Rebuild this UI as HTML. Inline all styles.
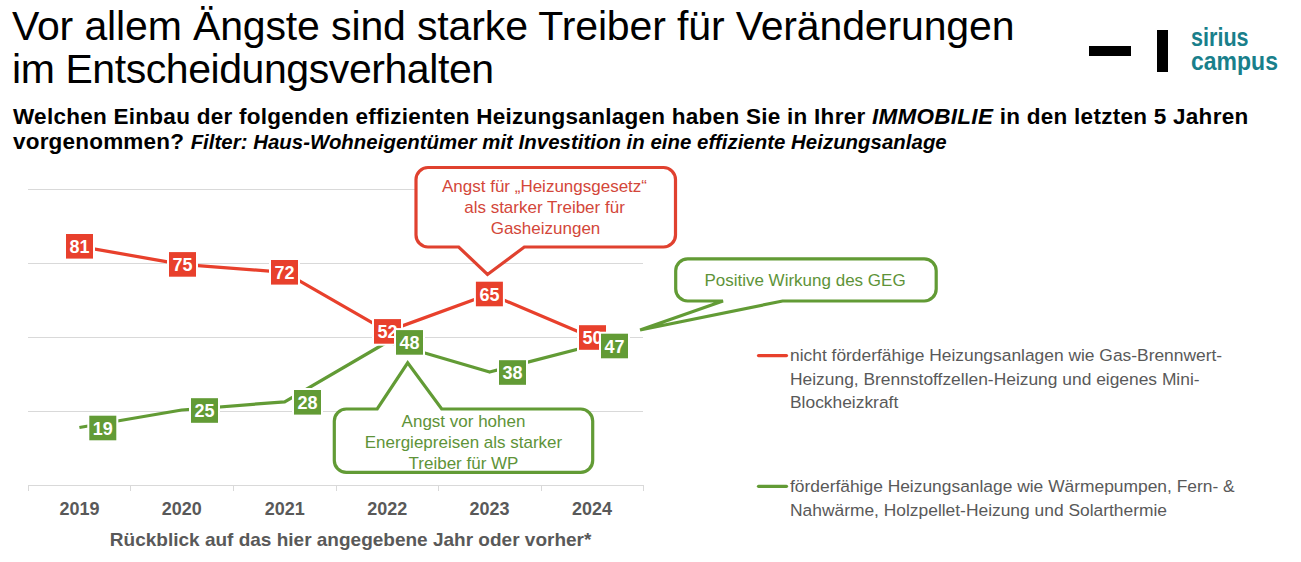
<!DOCTYPE html>
<html><head><meta charset="utf-8">
<style>
html,body{margin:0;padding:0;background:#fff;}
body{width:1301px;height:562px;position:relative;overflow:hidden;font-family:"Liberation Sans",sans-serif;}
.t{position:absolute;white-space:nowrap;}
#title1,#title2{font-size:41px;line-height:42.7px;color:#000;}
#title1{left:12px;top:5px;letter-spacing:-0.135px;}
#title2{left:12px;top:47.7px;letter-spacing:-0.425px;}
#sub1,#sub2{font-size:22.5px;line-height:25px;font-weight:bold;color:#000;left:13px;}
#sub1{top:103.6px;letter-spacing:0.27px;}
#sub2{top:128.6px;}
#sub2 .q{letter-spacing:0.2px;}
#sub2 i{font-size:20.4px;letter-spacing:0.03px;}
.logo{font-size:26px;line-height:26px;font-weight:bold;color:#197f8b;left:1191px;transform-origin:0 0;}
#logo1{top:23.8px;transform:scaleX(0.83);}
#logo2{top:48.4px;transform:scaleX(0.885);}
svg{position:absolute;left:0;top:0;}
.leg{font-size:17.4px;line-height:23.9px;color:#595959;left:790px;}
</style></head>
<body>
<div class="t" id="title1">Vor allem Ängste sind starke Treiber für Veränderungen</div>
<div class="t" id="title2">im Entscheidungsverhalten</div>
<div class="t" id="sub1">Welchen Einbau der folgenden effizienten Heizungsanlagen haben Sie in Ihrer <i>IMMOBILIE</i> in den letzten 5 Jahren</div>
<div class="t" id="sub2"><span class="q">vorgenommen? </span><i>Filter: Haus-Wohneigentümer mit Investition in eine effiziente Heizungsanlage</i></div>
<div class="t logo" id="logo1">sirius</div>
<div class="t logo" id="logo2">campus</div>
<div style="position:absolute;left:1089px;top:46px;width:42px;height:10px;background:#000"></div>
<div style="position:absolute;left:1157px;top:30px;width:11px;height:42px;background:#000"></div>

<svg width="1301" height="562" viewBox="0 0 1301 562">
  <g stroke="#d9d9d9" stroke-width="1" fill="none">
    <path d="M28 189.5H643M28 263.5H643M28 337.5H643M28 411.5H643M28 485.5H643"/>
    <path d="M28.5 485V491M130.5 485V491M233.5 485V491M336.5 485V491M438.5 485V491M541.5 485V491M643.5 485V491"/>
  </g>
  <polyline fill="none" stroke="#e8402c" stroke-width="3.25" stroke-linejoin="round" points="79.4,246.3 181.7,264.4 284.7,272.3 387.3,331.4 489.6,294 592.1,337.5"/>
  <polyline fill="none" stroke="#629b35" stroke-width="3.25" stroke-linejoin="round" points="79.4,427.5 181.7,410 284.7,401.8 387.3,342 489.6,372 592.1,345.5"/>
  <path fill="#fff" stroke="#e0412f" stroke-width="3.2" stroke-linejoin="miter" d="M428 167.5H663.5A12 12 0 0 1 675.5 179.5V235A12 12 0 0 1 663.5 247H524.3L487.5 274.5L458.7 247H428A12 12 0 0 1 416 235V179.5A12 12 0 0 1 428 167.5Z"/>
  <path fill="#fff" stroke="#629b35" stroke-width="3.2" stroke-linejoin="miter" d="M346.3 409H377.2L407.7 362.8L441.7 409H580.7A12 12 0 0 1 592.7 421V460.4A12 12 0 0 1 580.7 472.4H346.3A12 12 0 0 1 334.3 460.4V421A12 12 0 0 1 346.3 409Z"/>
  <path fill="#fff" stroke="#629b35" stroke-width="3.2" stroke-linejoin="miter" d="M687.7 258.8H924.2A12 12 0 0 1 936.2 270.8V289A12 12 0 0 1 924.2 301H782.6L640.1 330L723 301H687.7A12 12 0 0 1 675.7 289V270.8A12 12 0 0 1 687.7 258.8Z"/>
  <g font-family="Liberation Sans" font-size="17" text-anchor="middle">
    <g fill="#d3473a">
      <text x="544.5" y="192.3">Angst für „Heizungsgesetz“</text>
      <text x="544.5" y="213.0">als starker Treiber für</text>
      <text x="545.5" y="233.8">Gasheizungen</text>
    </g>
    <g fill="#5e9338">
      <text x="463.5" y="427.3">Angst vor hohen</text>
      <text x="463.5" y="447.9">Energiepreisen als starker</text>
      <text x="463.5" y="468.6">Treiber für WP</text>
      <text x="805" y="285.7">Positive Wirkung des GEG</text>
    </g>
  </g>
  <g font-family="Liberation Sans" font-size="18" font-weight="bold" fill="#fff" text-anchor="middle">
<rect x="64.00" y="232.00" width="31" height="28.6" fill="#fff"/>
<rect x="66.00" y="234.00" width="27" height="24.6" fill="#e8402c"/>
<text x="79.50" y="253.00">81</text>
<rect x="167.00" y="250.10" width="31" height="28.6" fill="#fff"/>
<rect x="169.00" y="252.10" width="27" height="24.6" fill="#e8402c"/>
<text x="182.50" y="271.10">75</text>
<rect x="269.00" y="258.00" width="31" height="28.6" fill="#fff"/>
<rect x="271.00" y="260.00" width="27" height="24.6" fill="#e8402c"/>
<text x="284.50" y="279.00">72</text>
<rect x="372.00" y="317.10" width="31" height="28.6" fill="#fff"/>
<rect x="374.00" y="319.10" width="27" height="24.6" fill="#e8402c"/>
<text x="387.50" y="338.10">52</text>
<rect x="473.90" y="279.70" width="31" height="28.6" fill="#fff"/>
<rect x="475.90" y="281.70" width="27" height="24.6" fill="#e8402c"/>
<text x="489.40" y="300.70">65</text>
<rect x="577.00" y="323.20" width="31" height="28.6" fill="#fff"/>
<rect x="579.00" y="325.20" width="27" height="24.6" fill="#e8402c"/>
<text x="592.50" y="344.20">50</text>
<rect x="87.30" y="413.70" width="31" height="28.6" fill="#fff"/>
<rect x="89.30" y="415.70" width="27" height="24.6" fill="#629b35"/>
<text x="102.80" y="434.70">19</text>
<rect x="189.00" y="396.20" width="31" height="28.6" fill="#fff"/>
<rect x="191.00" y="398.20" width="27" height="24.6" fill="#629b35"/>
<text x="204.50" y="417.20">25</text>
<rect x="292.00" y="388.00" width="31" height="28.6" fill="#fff"/>
<rect x="294.00" y="390.00" width="27" height="24.6" fill="#629b35"/>
<text x="307.50" y="409.00">28</text>
<rect x="394.00" y="328.10" width="31" height="28.6" fill="#fff"/>
<rect x="396.00" y="330.10" width="27" height="24.6" fill="#629b35"/>
<text x="409.50" y="349.10">48</text>
<rect x="497.00" y="358.20" width="31" height="28.6" fill="#fff"/>
<rect x="499.00" y="360.20" width="27" height="24.6" fill="#629b35"/>
<text x="512.50" y="379.20">38</text>
<rect x="599.00" y="331.70" width="31" height="28.6" fill="#fff"/>
<rect x="601.00" y="333.70" width="27" height="24.6" fill="#629b35"/>
<text x="614.50" y="352.70">47</text>
  </g>
  <g font-family="Liberation Sans" font-size="18" font-weight="bold" fill="#595959" text-anchor="middle">
    <text x="79.4" y="515">2019</text>
    <text x="181.7" y="515">2020</text>
    <text x="284.7" y="515">2021</text>
    <text x="387.3" y="515">2022</text>
    <text x="489.6" y="515">2023</text>
    <text x="592.1" y="515">2024</text>
  </g>
  <text x="350.6" y="545.5" font-family="Liberation Sans" font-size="19" font-weight="bold" fill="#595959" text-anchor="middle">Rückblick auf das hier angegebene Jahr oder vorher*</text>
  <path d="M758.5 355.6H786.5" stroke="#e8402c" stroke-width="3.2" stroke-linecap="round"/>
  <path d="M758.5 486.3H786.5" stroke="#629b35" stroke-width="3.2" stroke-linecap="round"/>
</svg>
<div class="t leg" style="top:343.6px">nicht förderfähige Heizungsanlagen wie Gas-Brennwert-<br>Heizung, Brennstoffzellen-Heizung und eigenes Mini-<br>Blockheizkraft</div>
<div class="t leg" style="top:475.3px">förderfähige Heizungsanlage wie Wärmepumpen, Fern- &amp;<br>Nahwärme, Holzpellet-Heizung und Solarthermie</div>
</body></html>
